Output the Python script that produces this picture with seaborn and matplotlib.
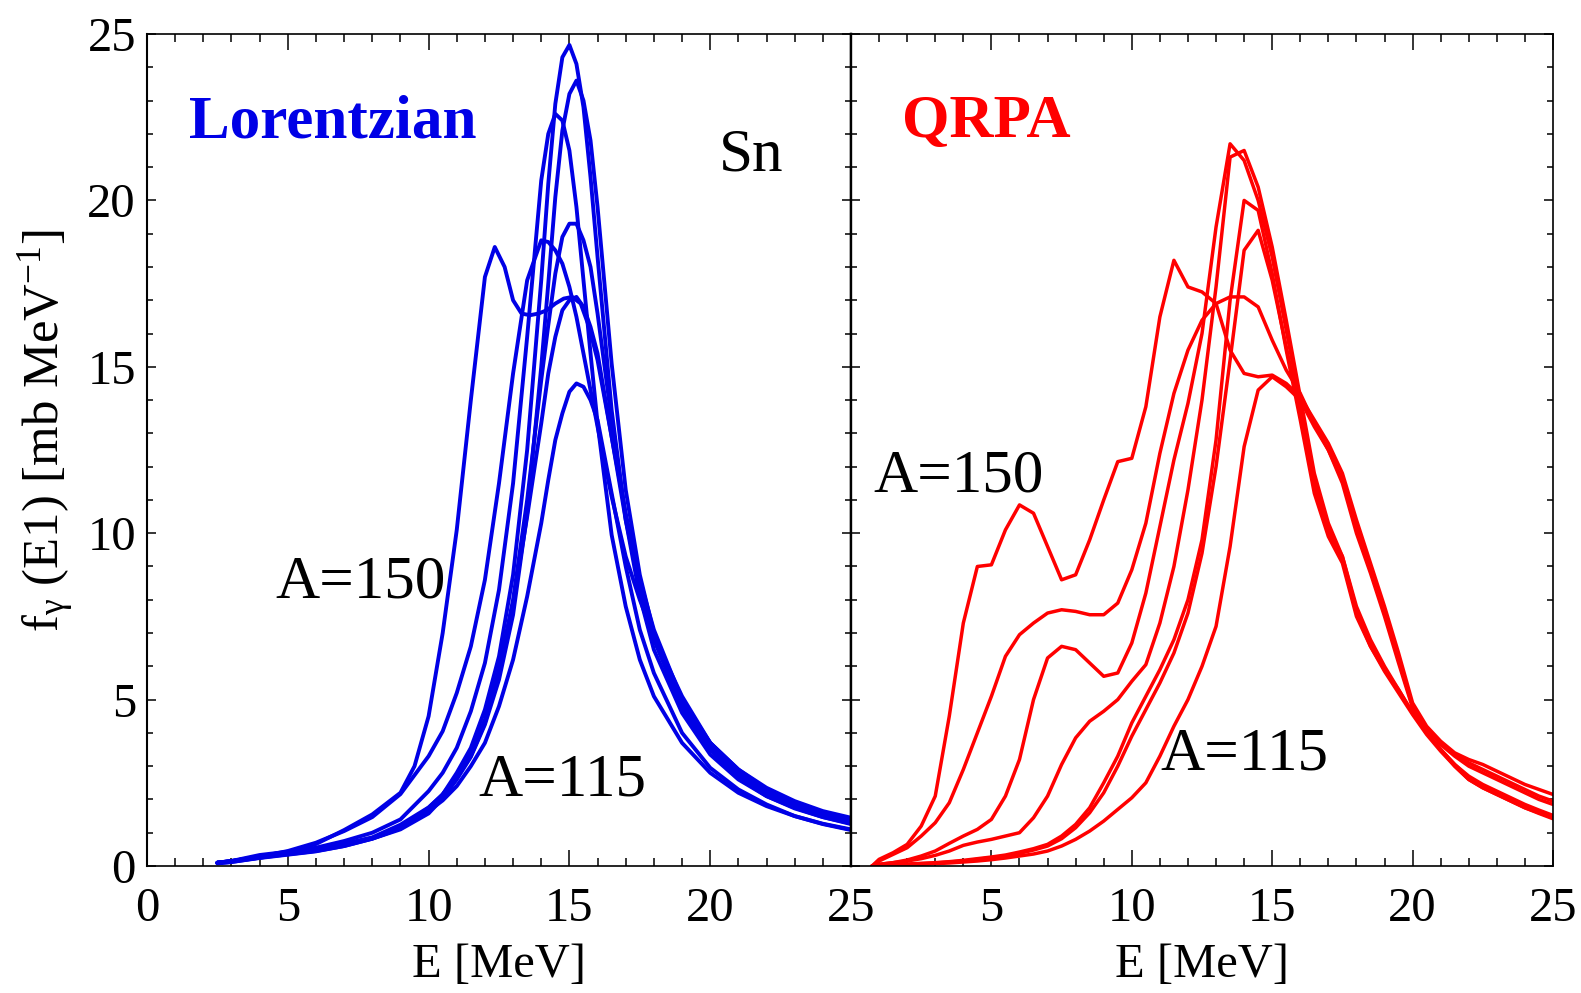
import matplotlib
matplotlib.use("Agg")
import matplotlib.pyplot as plt
from matplotlib.ticker import MultipleLocator
import pandas as pd
import seaborn as sns

# ---------------- data ----------------
# Lorentzian panel (blue), energies in MeV, f in mb/MeV
E_lor = [2.5, 3, 4, 5, 6, 7, 8, 9, 10, 10.5, 11, 11.5, 12, 12.5, 13, 13.5, 14, 14.25,
         14.5, 14.75, 15, 15.25, 15.5, 15.75, 16, 16.5, 17, 17.5, 18, 19, 20, 21, 22, 23, 24, 25]
E_lor_150 = [2.5, 3, 4, 5, 6, 7, 8, 9, 9.5, 10, 10.5, 11, 11.5, 12, 12.35, 12.7, 13.0, 13.3,
             13.6, 13.9, 14.2, 14.5, 14.8, 15.1, 15.4, 15.7, 16, 16.5, 17, 17.5, 18, 19, 20,
             21, 22, 23, 24, 25]
lor_150 = [0.1, 0.15, 0.27, 0.42, 0.66, 1.08, 1.55, 2.2, 3.0, 4.5, 7.0, 10.1, 14.0, 17.7, 18.6,
           18.0, 17.0, 16.6, 16.55, 16.6, 16.7, 16.9, 17.05, 17.1, 16.9, 16.2, 15.2, 12.9, 10.6,
           8.6, 7.1, 5.0, 3.7, 2.85, 2.3, 1.9, 1.6, 1.38]
lor_145 = [0.1, 0.15, 0.28, 0.45, 0.7, 1.05, 1.47, 2.16, 3.3, 4.05, 5.2, 6.6, 8.6, 11.5, 14.8,
           17.6, 18.8, 18.75, 18.5, 18.1, 17.4, 16.5, 15.4, 14.3, 13.2, 11.1, 9.3, 8.0, 6.9, 5.1,
           3.7, 2.9, 2.35, 1.95, 1.65, 1.45]
lor_140 = [0.1, 0.15, 0.33, 0.43, 0.55, 0.75, 1.0, 1.4, 2.25, 2.8, 3.55, 4.65, 6.1, 8.3, 11.5,
           15.9, 20.6, 22.0, 22.6, 22.4, 21.5, 19.8, 17.6, 15.4, 13.3, 9.95, 7.8, 6.2, 5.1, 3.7,
           2.8, 2.2, 1.8, 1.5, 1.27, 1.1]
lor_135 = [0.08, 0.12, 0.24, 0.34, 0.44, 0.6, 0.82, 1.13, 1.63, 2.15, 2.8, 3.55, 4.7, 6.3, 8.75,
           12.5, 17.6, 20.5, 22.9, 24.3, 24.67, 24.1, 22.8, 20.7, 18.3, 13.7, 10.4, 8.1, 6.5, 4.6,
           3.35, 2.6, 2.1, 1.73, 1.47, 1.28]
lor_130 = [0.08, 0.12, 0.25, 0.35, 0.45, 0.6, 0.82, 1.1, 1.58, 2.03, 2.6, 3.28, 4.25, 5.6, 7.55,
           10.6, 15.0, 17.5, 20.1, 22.1, 23.2, 23.6, 23.0, 21.8, 19.8, 15.1, 11.3, 8.75, 7.0, 4.7,
           3.5, 2.65, 2.1, 1.75, 1.47, 1.26]
lor_125 = [0.1, 0.14, 0.25, 0.38, 0.49, 0.64, 0.84, 1.15, 1.75, 2.15, 2.65, 3.3, 4.3, 5.9, 8.0,
           11.0, 14.6, 16.25, 17.8, 18.9, 19.3, 19.3, 18.8, 18.0, 16.6, 13.4, 10.5, 8.3, 6.8, 4.75,
           3.6, 2.75, 2.2, 1.82, 1.55, 1.32]
lor_120 = [0.1, 0.14, 0.3, 0.42, 0.53, 0.67, 0.86, 1.24, 1.76, 2.15, 2.7, 3.4, 4.4, 5.9, 7.9,
           10.5, 13.3, 14.8, 15.9, 16.7, 17.0, 17.1, 16.8, 16.2, 15.4, 12.9, 10.4, 8.4, 6.9, 4.9,
           3.7, 2.9, 2.3, 1.9, 1.6, 1.4]
lor_115 = [0.1, 0.14, 0.28, 0.39, 0.49, 0.64, 0.83, 1.13, 1.65, 1.97, 2.4, 3.0, 3.7, 4.8, 6.2,
           8.1, 10.3, 11.6, 12.8, 13.6, 14.25, 14.5, 14.4, 14.0, 13.4, 11.2, 9.0, 7.1, 5.8, 4.0,
           2.95, 2.3, 1.85, 1.5, 1.26, 1.08]

# QRPA panel (red)
E_qrpa = [0.75, 1, 1.5, 2, 2.5, 3, 3.5, 4, 4.5, 5, 5.5, 6, 6.5, 7, 7.5, 8, 8.5, 9, 9.5, 10,
          10.5, 11, 11.5, 12, 12.5, 13, 13.5, 14, 14.5, 15, 15.5, 16, 16.5, 17, 17.5, 18, 18.5,
          19, 19.5, 20, 20.5, 21, 21.5, 22, 22.5, 23, 23.5, 24, 24.5, 25]
qrpa_150 = [0.0, 0.2, 0.4, 0.65, 1.2, 2.1, 4.5, 7.3, 9.0, 9.05, 10.1, 10.85, 10.6, 9.6, 8.6, 8.75,
            9.8, 11.0, 12.15, 12.25, 13.8, 16.5, 18.2, 17.4, 17.25, 16.9, 15.5, 14.8, 14.7, 14.75,
            14.5, 14.1, 13.4, 12.7, 11.8, 10.4, 9.1, 7.8, 6.4, 4.9, 4.2, 3.75, 3.4, 3.2, 3.05,
            2.85, 2.65, 2.45, 2.3, 2.15]
qrpa_145 = [0.0, 0.15, 0.35, 0.55, 0.9, 1.3, 1.9, 2.9, 4.0, 5.1, 6.3, 6.95, 7.3, 7.6, 7.7, 7.65,
            7.55, 7.55, 7.9, 8.9, 10.3, 12.4, 14.2, 15.5, 16.4, 16.9, 17.1, 17.1, 16.8, 15.8, 14.9,
            14.2, 13.3, 12.5, 11.6, 10.2, 8.9, 7.6, 6.2, 4.8, 4.15, 3.7, 3.35, 3.1, 2.9, 2.7, 2.5,
            2.3, 2.1, 1.95]
qrpa_140 = [0.0, 0.05, 0.1, 0.18, 0.3, 0.45, 0.68, 0.9, 1.1, 1.4, 2.1, 3.2, 5.0, 6.25, 6.6, 6.5,
            6.1, 5.7, 5.8, 6.7, 8.2, 10.2, 12.2, 13.9, 16.0, 19.2, 21.7, 21.2, 20.0, 18.3, 16.1,
            13.9, 11.4, 10.0, 9.2, 7.6, 6.6, 5.9, 5.3, 4.6, 4.0, 3.5, 3.0, 2.6, 2.35, 2.15, 1.95,
            1.75, 1.6, 1.45]
qrpa_135 = [0.0, 0.05, 0.1, 0.15, 0.22, 0.32, 0.45, 0.62, 0.72, 0.8, 0.9, 1.0, 1.45, 2.1, 3.05,
            3.85, 4.35, 4.65, 5.0, 5.55, 6.05, 7.3, 9.0, 11.3, 14.0, 17.4, 21.3, 21.5, 20.4, 18.6,
            16.4, 14.1, 11.8, 10.3, 9.3, 7.8, 6.8, 6.0, 5.3, 4.6, 4.0, 3.5, 3.05, 2.65, 2.4, 2.2,
            2.0, 1.8, 1.62, 1.48]
qrpa_130 = [0.0, 0.02, 0.04, 0.06, 0.08, 0.1, 0.13, 0.17, 0.22, 0.27, 0.33, 0.42, 0.52, 0.65,
            0.9, 1.25, 1.75, 2.5, 3.3, 4.3, 5.1, 5.9, 6.8, 8.0, 9.8, 12.8, 17.0, 20.0, 19.7, 17.8,
            15.5, 13.4, 11.2, 9.9, 9.1, 7.5, 6.6, 5.85, 5.2, 4.55, 3.95, 3.45, 3.0, 2.6, 2.35,
            2.15, 1.95, 1.75, 1.58, 1.42]
qrpa_125 = [0.0, 0.02, 0.03, 0.05, 0.07, 0.09, 0.12, 0.15, 0.2, 0.25, 0.3, 0.38, 0.48, 0.6,
            0.82, 1.15, 1.6, 2.2, 3.0, 3.9, 4.7, 5.5, 6.4, 7.6, 9.4, 12.0, 15.2, 18.5, 19.1, 17.6,
            15.6, 13.6, 11.5, 10.1, 9.3, 7.7, 6.7, 5.95, 5.25, 4.6, 4.0, 3.5, 3.05, 2.7, 2.45,
            2.25, 2.05, 1.85, 1.68, 1.52]
qrpa_115 = [0.0, 0.01, 0.02, 0.03, 0.05, 0.07, 0.09, 0.12, 0.15, 0.19, 0.24, 0.3, 0.36, 0.45,
            0.6, 0.8, 1.05, 1.35, 1.7, 2.05, 2.5, 3.3, 4.2, 5.0, 6.0, 7.2, 9.6, 12.6, 14.3, 14.7,
            14.4, 14.0, 13.2, 12.5, 11.5, 10.0, 8.8, 7.5, 6.1, 4.75, 4.15, 3.65, 3.3, 3.0, 2.8,
            2.6, 2.4, 2.2, 2.0, 1.85]

x_ticks = [0, 5, 10, 15, 20, 25]
x_labels_left = ["0", "5", "10", "15", "20", "25"]
x_labels_right = ["", "5", "10", "15", "20", "25"]
y_ticks = [0, 5, 10, 15, 20, 25]

# ---------------- long-form tables ----------------
lor_curves = {"150": (E_lor_150, lor_150), "145": (E_lor, lor_145), "140": (E_lor, lor_140),
              "135": (E_lor, lor_135), "130": (E_lor, lor_130), "125": (E_lor, lor_125),
              "120": (E_lor, lor_120), "115": (E_lor, lor_115)}
qrpa_curves = {"150": qrpa_150, "145": qrpa_145, "140": qrpa_140, "135": qrpa_135,
               "130": qrpa_130, "125": qrpa_125, "115": qrpa_115}

rows = []
for name, (xs, ys) in lor_curves.items():
    for xv, yv in zip(xs, ys):
        rows.append({"E": xv, "f": yv, "A": name})
df_lor = pd.DataFrame(rows)
rows = []
for name, ys in qrpa_curves.items():
    for xv, yv in zip(E_qrpa, ys):
        rows.append({"E": xv, "f": yv, "A": name})
df_qrpa = pd.DataFrame(rows)

# ---------------- style ----------------
sns.set_theme(style="ticks")
plt.rcParams["font.family"] = ["Liberation Serif", "DejaVu Serif"]
plt.rcParams["mathtext.fontset"] = "custom"
plt.rcParams["mathtext.rm"] = "Liberation Serif"
plt.rcParams["mathtext.it"] = "Liberation Serif:italic"
plt.rcParams["mathtext.bf"] = "Liberation Serif:bold"
plt.rcParams["text.color"] = "black"
plt.rcParams["axes.labelcolor"] = "black"
plt.rcParams["xtick.color"] = "black"
plt.rcParams["ytick.color"] = "black"

W, H = 1581, 993
fig = plt.figure(figsize=(W / 100, H / 100), dpi=100)
fig.patch.set_facecolor("white")
ax1 = fig.add_axes([147 / W, 1 - 866 / H, 704 / W, 832 / H])
ax2 = fig.add_axes([851 / W, 1 - 866 / H, 702 / W, 832 / H])

BLUE = "#0000e6"
RED = "#ff0000"

sns.lineplot(data=df_lor, x="E", y="f", units="A", estimator=None, sort=False,
             color=BLUE, linewidth=2.8, ax=ax1, legend=False)
sns.lineplot(data=df_qrpa, x="E", y="f", units="A", estimator=None, sort=False,
             color=RED, linewidth=2.5, ax=ax2, legend=False)
for ax in (ax1, ax2):
    for ln in ax.get_lines():
        ln.set_solid_joinstyle("round")
        ln.set_solid_capstyle("round")

FS = 35
for ax in (ax1, ax2):
    ax.set_facecolor("white")
    ax.set_xlim(0, 25)
    ax.set_ylim(0, 25)
    ax.set_xticks(x_ticks)
    ax.set_yticks(y_ticks)
    ax.xaxis.set_minor_locator(MultipleLocator(1))
    ax.yaxis.set_minor_locator(MultipleLocator(1))
    ax.tick_params(which="both", direction="in", top=True, right=True, colors="black",
                   labelcolor="black", width=1.1)
    ax.tick_params(axis="x", which="major", length=11.5, pad=15, labelsize=FS)
    ax.tick_params(axis="x", which="minor", length=6.0)
    ax.tick_params(axis="y", which="major", length=6.5, pad=8, labelsize=FS)
    ax.tick_params(axis="y", which="minor", length=4.0)
    for sp in ax.spines.values():
        sp.set_visible(True)
        sp.set_color("black")
        sp.set_linewidth(1.2)
    ax.set_xlabel("E [MeV]", fontsize=FS, labelpad=9, color="black")
    ax.set_ylabel("")

ax1.spines["left"].set_linewidth(1.5)
ax1.spines["right"].set_linewidth(1.7)
ax2.spines["left"].set_linewidth(1.7)
ax1.set_xticklabels(x_labels_left)
ax2.set_xticklabels(x_labels_right)
ax1.set_yticklabels([str(v) for v in y_ticks])
ax2.tick_params(labelleft=False)

ax1.set_ylabel(r"f$_{\mathrm{\gamma}}$ (E1) [mb MeV$^{-1}$]", fontsize=36.5, color="black")
ax1.yaxis.set_label_coords(-0.10, 0.523)

# ---------------- annotations ----------------
ax1.text(1.49, 21.9, "Lorentzian", color=BLUE, fontsize=44, fontweight="bold",
         ha="left", va="baseline")
ax1.text(20.3, 20.9, "Sn", color="black", fontsize=44, ha="left", va="baseline")
ax1.text(4.55, 8.08, "A=150", color="black", fontsize=44, ha="left", va="baseline")
ax1.text(11.75, 2.13, "A=115", color="black", fontsize=44, ha="left", va="baseline")
ax2.text(1.82, 21.9, "QRPA", color=RED, fontsize=44, fontweight="bold",
         ha="left", va="baseline")
ax2.text(0.78, 11.24, "A=150", color="black", fontsize=44, ha="left", va="baseline")
ax2.text(11.0, 2.9, "A=115", color="black", fontsize=44, ha="left", va="baseline")

fig.savefig("out.png", dpi=100, facecolor="white")
